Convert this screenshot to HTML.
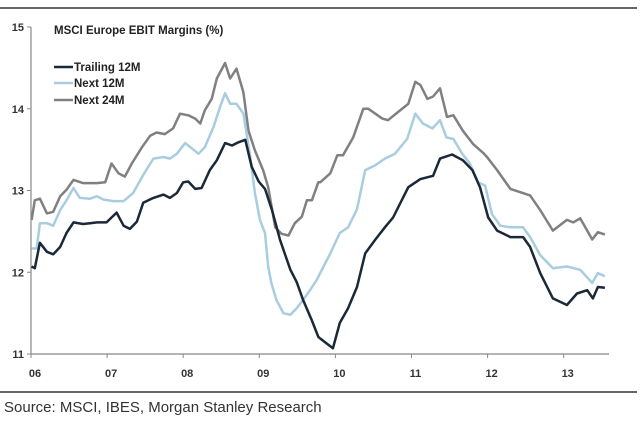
<!DOCTYPE html>
<html><head><meta charset="utf-8"><style>
html,body{margin:0;padding:0;background:#fff;width:640px;height:424px;overflow:hidden}
svg{display:block}
text{font-family:"Liberation Sans",Arial,sans-serif}
</style></head><body>
<svg id="chart" width="640" height="424">
<line x1="0" y1="8" x2="637" y2="8" stroke="#333" stroke-width="1.5"/>
<line x1="0" y1="392" x2="637" y2="392" stroke="#333" stroke-width="1.5"/>
<text x="54" y="34" font-size="11.5" font-weight="bold" fill="#222">MSCI Europe EBIT Margins (%)</text>
<g>
<line x1="54" y1="67" x2="73" y2="67" stroke="#1a2838" stroke-width="2.5"/>
<text x="74" y="71" font-size="11.5" font-weight="bold" fill="#222">Trailing 12M</text>
<line x1="54" y1="83" x2="73" y2="83" stroke="#a9cde0" stroke-width="2.5"/>
<text x="74" y="87" font-size="11.5" font-weight="bold" fill="#222">Next 12M</text>
<line x1="54" y1="100" x2="73" y2="100" stroke="#808080" stroke-width="2.5"/>
<text x="74" y="104" font-size="11.5" font-weight="bold" fill="#222">Next 24M</text>
</g>
<text x="4" y="412" font-size="15" fill="#333">Source: MSCI, IBES, Morgan Stanley Research</text>
<g id="axes"></g>
<g id="series"></g>
</svg>
<script>
const yTicks=[11,12,13,14,15];
const xTickLabels=["06","07","08","09","10","11","12","13"];
const trailingMonths=[0.1,0.6,1.4,2.5,3.5,4.6,5.6,6.7,8.2,9.3,10.4,11.9,13.5,14.6,15.6,16.7,17.7,19.3,20.9,21.9,23.0,24.0,24.8,25.9,26.9,28.2,29.3,30.6,31.7,32.7,33.8,34.8,35.9,36.9,38.0,39.3,40.9,41.9,42.9,44.3,45.3,45.6,47.6,48.7,50.0,51.4,52.7,54.3,55.8,57.1,59.5,61.4,63.4,64.5,66.4,68.1,69.6,70.8,72.1,73.5,75.6,77.6,78.7,80.3,82.3,84.5,86.1,87.7,88.6,89.4,90.5];
const trailingValues=[12.07,12.05,12.36,12.25,12.22,12.31,12.48,12.61,12.59,12.6,12.61,12.61,12.73,12.57,12.53,12.62,12.85,12.91,12.95,12.91,12.97,13.1,13.11,13.02,13.03,13.25,13.37,13.58,13.55,13.59,13.62,13.29,13.11,13.02,12.76,12.39,12.03,11.88,11.66,11.41,11.21,11.19,11.07,11.38,11.56,11.82,12.23,12.4,12.55,12.67,13.04,13.14,13.18,13.39,13.44,13.37,13.25,13.04,12.67,12.51,12.43,12.43,12.31,11.99,11.68,11.6,11.74,11.78,11.68,11.82,11.81];
const next12Months=[0.1,0.9,1.4,2.5,3.5,4.6,5.6,6.7,7.7,9.3,10.4,11.4,13.0,14.6,16.1,17.7,19.3,20.9,21.9,23.0,24.3,25.3,26.4,27.4,28.8,29.8,30.6,31.4,32.4,33.5,34.5,35.3,36.1,36.9,37.4,37.9,38.7,39.8,40.9,41.9,42.9,44.0,45.1,45.6,47.2,48.7,50.0,51.4,52.7,54.3,55.8,57.4,59.3,60.6,61.8,63.3,64.5,65.5,66.6,68.0,69.2,70.5,71.6,72.7,74.0,75.6,77.6,78.7,80.3,82.3,84.5,86.6,88.5,89.4,90.5];
const next12Values=[12.29,12.29,12.6,12.6,12.57,12.76,12.88,13.03,12.91,12.9,12.93,12.89,12.87,12.87,12.97,13.19,13.39,13.41,13.39,13.45,13.58,13.52,13.45,13.53,13.78,14.02,14.19,14.06,14.06,13.94,13.45,12.97,12.64,12.48,12.07,11.87,11.66,11.5,11.48,11.56,11.66,11.78,11.91,11.99,12.23,12.48,12.55,12.77,13.25,13.31,13.39,13.45,13.63,13.94,13.82,13.76,13.86,13.65,13.63,13.45,13.33,13.1,13.06,12.71,12.57,12.55,12.55,12.43,12.21,12.05,12.07,12.03,11.87,11.99,11.95];
const next24Months=[0.1,0.6,1.4,2.5,3.5,4.6,5.6,6.7,8.2,10.4,11.7,12.7,13.8,14.8,15.9,17.5,18.8,19.8,21.1,22.4,23.5,24.8,25.9,26.7,27.4,28.5,29.3,30.6,31.4,32.4,33.5,34.3,35.3,36.6,37.4,38.5,39.5,40.6,41.6,42.7,43.5,44.3,45.3,45.6,47.2,48.3,49.2,50.8,52.4,53.2,55.4,56.3,58.2,59.5,60.6,61.4,62.5,63.4,64.5,65.6,66.6,68.1,69.7,71.3,71.9,73.5,75.6,77.1,78.7,80.3,82.3,84.5,85.5,86.6,88.5,89.4,90.5];
const next24Values=[12.64,12.88,12.9,12.72,12.74,12.93,13.01,13.13,13.09,13.09,13.1,13.33,13.21,13.17,13.33,13.53,13.67,13.71,13.69,13.76,13.94,13.92,13.88,13.82,13.98,14.12,14.37,14.56,14.37,14.49,14.2,13.73,13.49,13.25,13.04,12.55,12.47,12.45,12.6,12.68,12.88,12.88,13.1,13.1,13.21,13.43,13.43,13.65,14.0,14.0,13.88,13.86,13.98,14.06,14.33,14.29,14.12,14.15,14.25,13.9,13.92,13.73,13.57,13.46,13.41,13.25,13.02,12.98,12.94,12.76,12.51,12.64,12.61,12.66,12.4,12.49,12.46];

const NS="http://www.w3.org/2000/svg";
const X0=31,PXM=76.1/12,Y0=354,PXU=81.75;
function xs(m){return X0+m*PXM;}
function ys(v){return Y0-(v-11)*PXU;}
function mk(tag,attrs,parent){const e=document.createElementNS(NS,tag);for(const k in attrs)e.setAttribute(k,attrs[k]);parent.appendChild(e);return e;}
const axes=document.getElementById('axes');
let a=mk('line',{x1:X0,y1:ys(15),x2:X0,y2:Y0,stroke:'#888','stroke-width':1.2},axes);


a=mk('line',{x1:X0,y1:Y0,x2:609,y2:Y0,stroke:'#888','stroke-width':1.2},axes);


yTicks.forEach(v=>{
  const t=mk('line',{x1:X0-4,y1:ys(v),x2:X0,y2:ys(v),stroke:'#888'},axes);
  
  
  const l=mk('text',{x:X0-7,y:ys(v)+4,'font-size':11,'font-weight':'bold','text-anchor':'end',fill:'#333'},axes);
  l.textContent=v;
  
  
});
xTickLabels.forEach((s,i)=>{
  const x=xs(i*12);
  const t=mk('line',{x1:x,y1:Y0,x2:x,y2:Y0+4,stroke:'#888'},axes);
  
  
  const l=mk('text',{x:x+4,y:377,'font-size':11,'font-weight':'bold','text-anchor':'middle',fill:'#333'},axes);
  l.textContent=s;
  
  
});
const ser=document.getElementById('series');
function line(ms,vs,color,name){
  const d=ms.map((m,i)=>(i?'L':'M')+xs(m).toFixed(1)+' '+ys(vs[i]).toFixed(1)).join(' ');
  const p=mk('path',{d:d,fill:'none',stroke:color,'stroke-width':2.5,'stroke-linejoin':'round'},ser);
  
  
}
line(next24Months,next24Values,'#808080','series-next-24m');
line(next12Months,next12Values,'#a9cde0','series-next-12m');
line(trailingMonths,trailingValues,'#1a2838','series-trailing-12m');
</script>
</body></html>
